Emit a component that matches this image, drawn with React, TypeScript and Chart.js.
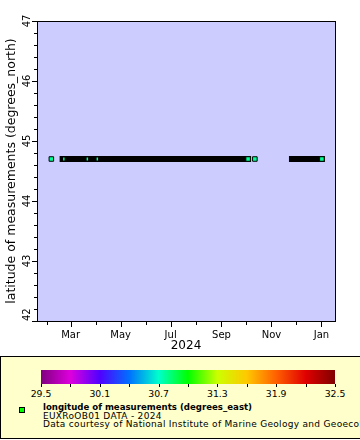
import React, { useEffect, useRef } from 'react';
import { Chart, registerables } from 'chart.js';

Chart.register(...registerables);

// ---------- data ----------
const t = (s: string) => Date.parse(s);

// x-axis range (time)
const X_MIN = '2024-01-20T00:00:00Z';
const X_MAX = '2025-01-17T12:00:00Z';

// month ticks and their labels
const tickDates = [
  '2024-02-01T00:00:00Z', '2024-03-01T00:00:00Z', '2024-04-01T00:00:00Z', '2024-05-01T00:00:00Z',
  '2024-06-01T00:00:00Z', '2024-07-01T00:00:00Z', '2024-08-01T00:00:00Z', '2024-09-01T00:00:00Z',
  '2024-10-01T00:00:00Z', '2024-11-01T00:00:00Z', '2024-12-01T00:00:00Z', '2025-01-01T00:00:00Z',
];
const tickLabels = ['', 'Mar', '', 'May', '', 'Jul', '', 'Sep', '', 'Nov', '', 'Jan'];

// y-axis
const Y_MIN = 42;
const Y_MAX = 47;
const Y_STEP = 0.2;
const yLabelValues = [42, 43, 44, 45, 46, 47];

// continuous runs of dense measurements (start / end)
const runStart = ['2024-02-20T06:00:00Z', '2024-11-26T00:00:00Z'];
const runEnd = ['2024-10-03T12:00:00Z', '2025-01-01T12:00:00Z'];
const runLat = [44.7, 44.7];

// fully visible markers
const markerDates = ['2024-02-06T12:00:00Z', '2024-10-03T12:00:00Z', '2024-10-11T18:00:00Z', '2025-01-01T12:00:00Z'];
const markerLats = [44.7, 44.7, 44.7, 44.7];
const markerLons = [30.78, 30.78, 30.78, 30.78];

// partially visible markers inside the dense run
const slitDates = ['2024-02-21T18:00:00Z', '2024-03-21T10:00:00Z', '2024-04-02T14:00:00Z'];
const slitLats = [44.7, 44.7, 44.7];
const slitLons = [30.78, 30.78, 30.78];

// colour bar (longitude)
const C_MIN = 29.5;
const C_MAX = 32.5;
const colorStops = ['#800080', '#dd00dd', '#5000ff', '#0070ff', '#00ffcc', '#00ff00', '#ccff00', '#ffc800', '#ff6000', '#e00000', '#800000'];
const cbTickValues = [29.5, 29.8, 30.1, 30.4, 30.7, 31.0, 31.3, 31.6, 31.9, 32.2, 32.5];
const cbLabels = ['29.5', '30.1', '30.7', '31.3', '31.9', '32.5'];

const legendTitle = 'longitude of measurements (degrees_east)';
const legendLine2 = 'EUXRoOB01 DATA - 2024';
const legendLine3 = 'Data courtesy of National Institute of Marine Geology and Geoecology (GeoEcoMar)';

// ---------- helpers ----------
function hexToRgb(h: string) {
  const n = parseInt(h.slice(1), 16);
  return [(n >> 16) & 255, (n >> 8) & 255, n & 255];
}
function paletteColor(v: number) {
  const f = Math.min(1, Math.max(0, (v - C_MIN) / (C_MAX - C_MIN))) * (colorStops.length - 1);
  const i = Math.min(colorStops.length - 2, Math.floor(f));
  const k = f - i;
  const a = hexToRgb(colorStops[i]);
  const b = hexToRgb(colorStops[i + 1]);
  const c = a.map((x, j) => Math.round(x + (b[j] - x) * k));
  return `rgb(${c[0]},${c[1]},${c[2]})`;
}

const FONT = 'DejaVu Sans';

const framePlugin = {
  id: 'erddapFrame',
  beforeDraw(chart: any) {
    const { ctx, chartArea } = chart;
    ctx.save();
    ctx.fillStyle = '#ccccff';
    ctx.fillRect(chartArea.left, chartArea.top, chartArea.right - chartArea.left, chartArea.bottom - chartArea.top);
    ctx.restore();
  },
  afterDraw(chart: any) {
    const { ctx, chartArea } = chart;
    const xs = chart.scales.x;
    const ys = chart.scales.y;
    const L = Math.round(chartArea.left);
    const R = Math.round(chartArea.right);
    const T = Math.round(chartArea.top);
    const B = Math.round(chartArea.bottom);
    ctx.save();
    ctx.strokeStyle = '#000';
    ctx.lineWidth = 1;
    ctx.strokeRect(L + 0.5, T + 0.5, R - L, B - T);
    // x tick marks
    ctx.beginPath();
    xs.ticks.forEach((tk: any, i: number) => {
      const px = Math.round(xs.getPixelForValue(tk.value)) + 0.5;
      const len = tickLabels[i] ? 5 : 3;
      ctx.moveTo(px, B + 1);
      ctx.lineTo(px, B + 1 + len);
    });
    // y tick marks
    ys.ticks.forEach((tk: any) => {
      const py = Math.round(ys.getPixelForValue(tk.value)) + 0.5;
      const major = Math.abs(tk.value - Math.round(tk.value)) < 1e-6;
      const len = major ? 5 : 3;
      ctx.moveTo(L, py);
      ctx.lineTo(L - len, py);
    });
    ctx.stroke();
    // y tick labels, rotated
    ctx.fillStyle = '#000';
    ctx.font = `10px "${FONT}"`;
    ctx.textBaseline = 'middle';
    yLabelValues.forEach((v) => {
      const py = ys.getPixelForValue(v);
      ctx.save();
      ctx.translate(27, py);
      ctx.rotate(-Math.PI / 2);
      ctx.textAlign = v === Y_MIN ? 'left' : 'center';
      ctx.fillText(String(v), 0, 0);
      ctx.restore();
    });
    ctx.restore();
  },
};

export default function App() {
  const ref = useRef<HTMLCanvasElement | null>(null);

  useEffect(() => {
    document.body.style.margin = '0';
    const canvas = ref.current;
    if (!canvas) return;

    const runData: any[] = [];
    runStart.forEach((s, i) => {
      runData.push({ x: t(s), y: runLat[i] });
      runData.push({ x: t(runEnd[i]), y: runLat[i] });
      runData.push({ x: t(runEnd[i]), y: null });
    });

    const chart = new Chart(canvas, {
      type: 'scatter',
      data: {
        datasets: [
          {
            label: 'markers',
            data: markerDates.map((d, i) => ({ x: t(d), y: markerLats[i] })),
            pointStyle: 'rect',
            pointRadius: 3.2,
            pointBackgroundColor: markerLons.map(paletteColor),
            pointBorderColor: '#000',
            pointBorderWidth: 1,
            order: 0,
          } as any,
          {
            label: 'partial markers',
            data: slitDates.map((d, i) => ({ x: t(d), y: slitLats[i] })),
            pointStyle: 'line',
            rotation: 90,
            pointRadius: 1.5,
            pointBorderColor: slitLons.map(paletteColor),
            pointBorderWidth: 1.5,
            order: 1,
          } as any,
          {
            type: 'line',
            label: 'runs',
            data: runData,
            showLine: true,
            spanGaps: false,
            borderColor: '#000',
            borderWidth: 6,
            borderCapStyle: 'square',
            pointRadius: 0,
            fill: false,
            order: 2,
          } as any,
        ],
      },
      options: {
        responsive: false,
        animation: false,
        devicePixelRatio: 1,
        events: [],
        layout: { padding: { top: 21, right: 25, left: 0, bottom: 0 } },
        plugins: { legend: { display: false }, tooltip: { enabled: false } },
        scales: {
          x: {
            type: 'linear',
            min: t(X_MIN),
            max: t(X_MAX),
            afterBuildTicks: (scale: any) => {
              scale.ticks = tickDates.map((d) => ({ value: t(d) }));
            },
            afterFit: (scale: any) => {
              scale.height = 35;
            },
            ticks: {
              autoSkip: false,
              maxRotation: 0,
              minRotation: 0,
              padding: 8,
              color: '#000',
              font: { family: FONT, size: 10 },
              callback: (_v: any, i: number) => tickLabels[i],
            },
            grid: { display: true, drawOnChartArea: false, drawTicks: false },
            border: { display: false },
            title: {
              display: true,
              text: '2024',
              color: '#000',
              font: { family: FONT, size: 12 },
              padding: { top: 0, bottom: 2.5 },
            },
          },
          y: {
            type: 'linear',
            min: Y_MIN,
            max: Y_MAX,
            afterFit: (scale: any) => {
              scale.width = 37;
            },
            ticks: { stepSize: Y_STEP, display: false },
            grid: { display: true, drawOnChartArea: false, drawTicks: false },
            border: { display: false },
            title: {
              display: true,
              text: 'latitude of measurements (degrees_north)',
              color: '#000',
              font: { family: FONT, size: 12.5 },
              padding: { top: 4.5, bottom: 0 },
            },
          },
        },
      } as any,
      plugins: [framePlugin],
    });
    return () => chart.destroy();
  }, []);

  const cbLeft = 41;
  const cbWidth = 294;
  const gradient = `linear-gradient(to right, ${colorStops
    .map((c, i) => `${c} ${((i / (colorStops.length - 1)) * 100).toFixed(1)}%`)
    .join(', ')})`;
  const xOf = (v: number) => cbLeft + ((v - C_MIN) / (C_MAX - C_MIN)) * cbWidth;

  const lineStyle = (top: number, size: number, bold: boolean, spacing: number): React.CSSProperties => ({
    position: 'absolute', left: 43, top, fontSize: size, lineHeight: `${size}px`,
    fontWeight: bold ? 'bold' : 'normal', letterSpacing: spacing, color: '#000', whiteSpace: 'nowrap',
  });

  return (
    <div style={{ position: 'relative', width: 360, height: 440, overflow: 'hidden', background: '#fff', fontFamily: FONT }}>
      <canvas ref={ref} width={360} height={356} style={{ display: 'block', width: 360, height: 356 }} />
      <div
        style={{
          position: 'absolute', left: 0, top: 356, width: 364, height: 83, boxSizing: 'border-box',
          border: '1px solid #000', background: '#ffffcc',
        }}
      />
      <div style={{ position: 'absolute', left: cbLeft, top: 370, width: cbWidth, height: 14, background: gradient }} />
      {cbTickValues.map((v) => (
        <div key={v} style={{ position: 'absolute', left: Math.round(xOf(v)), top: 384, width: 1, height: 3, background: '#000' }} />
      ))}
      {cbLabels.map((s) => (
        <div
          key={s}
          style={{
            position: 'absolute', left: xOf(parseFloat(s)), top: 389, transform: 'translateX(-50%)',
            fontSize: 9.3, lineHeight: '10px', color: '#000', whiteSpace: 'nowrap',
          }}
        >
          {s}
        </div>
      ))}
      <div
        style={{
          position: 'absolute', left: 19, top: 407, width: 6, height: 6, boxSizing: 'border-box',
          border: '1px solid #000', background: '#00ff00',
        }}
      />
      <div style={lineStyle(403.2, 8.6, true, 0)}>{legendTitle}</div>
      <div style={lineStyle(411.7, 9, false, 0.3)}>{legendLine2}</div>
      <div style={lineStyle(419.9, 9, false, 0.3)}>{legendLine3}</div>
    </div>
  );
}
